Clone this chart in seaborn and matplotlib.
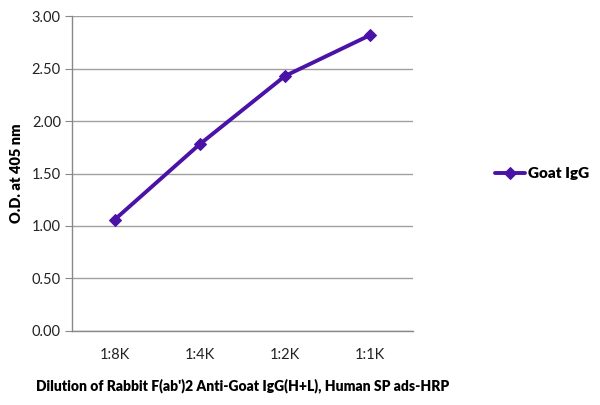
import matplotlib
matplotlib.use("Agg")
import matplotlib.pyplot as plt
import seaborn as sns
import pandas as pd

dilutions = ["1:8K", "1:4K", "1:2K", "1:1K"]
od_values = [1.06, 1.78, 2.43, 2.82]
series_name = "Goat IgG"

sns.set_style("white")
plt.rcParams['font.family'] = ['Lato', 'DejaVu Sans']

df = pd.DataFrame({"dilution": dilutions, "od": od_values, "serie": series_name})

fig = plt.figure(figsize=(6, 4.05), dpi=100)
ax = fig.add_axes([0.12, 0.183, 0.568, 0.777])
sns.lineplot(data=df, x="dilution", y="od", hue="serie", palette=["#4a12a6"],
             marker="D", markersize=6.5, linewidth=2.8, markeredgecolor="#4a12a6", ax=ax)

ax.set_xlim(-0.5, 3.5)
ax.set_ylim(0, 3)
ax.set_yticks([i * 0.5 for i in range(7)])
ax.set_yticklabels([f"{i * 0.5:.2f}" for i in range(7)], fontsize=10.5, color='#222222')
ax.set_xticks(range(4))
ax.set_xticklabels(dilutions, fontsize=10.5, color='#222222')
ax.set_xticks([-0.5, 0.5, 1.5, 2.5, 3.5], minor=True)
ax.tick_params(axis='x', which='major', length=0, pad=12)
ax.tick_params(axis='x', which='minor', length=5, color='#888888', direction='out')
ax.tick_params(axis='y', length=5, color='#888888', direction='out', left=True, pad=3)
ax.yaxis.grid(True, color='#a0a0a0', linewidth=1)
ax.xaxis.grid(False)
for s in ['top', 'right']:
    ax.spines[s].set_visible(False)
for s in ['left', 'bottom']:
    ax.spines[s].set_color('#888888')
    ax.spines[s].set_linewidth(1)

ax.set_ylabel("O.D. at 405 nm", fontsize=10.5, fontweight='heavy', color='black', labelpad=6)
ax.set_xlabel("Dilution of Rabbit F(ab')2 Anti-Goat IgG(H+L), Human SP ads-HRP",
              fontsize=10, fontweight='heavy', color='black', labelpad=12)

leg = ax.legend(loc='center left', bbox_to_anchor=(1.2, 0.5), frameon=False,
                prop={'weight': 'heavy', 'size': 11}, handlelength=2.0, handletextpad=0.2)
for t in leg.get_texts():
    t.set_color('black')

fig.savefig("out.png", dpi=100)
